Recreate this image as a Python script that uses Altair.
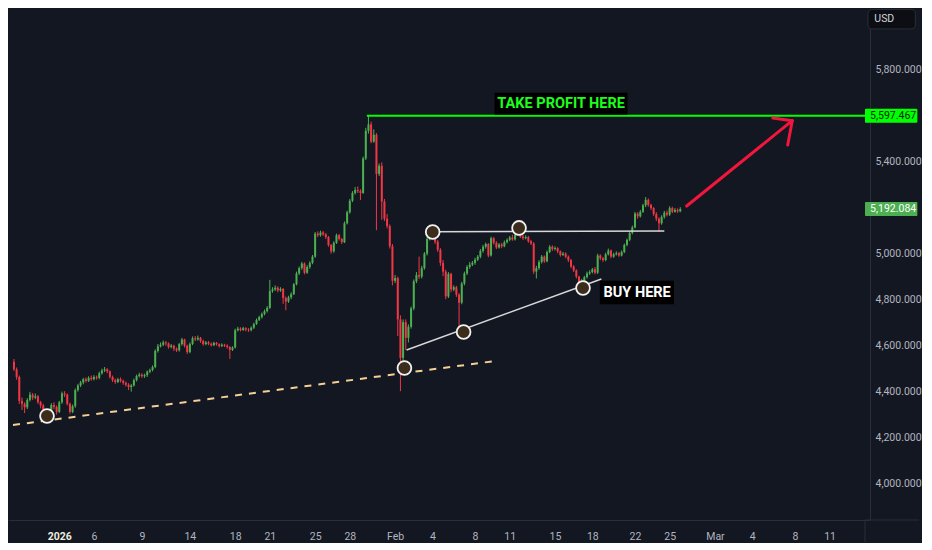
import altair as alt
import pandas as pd

# ---------------- candle data (4H bars, index 0..250) ----------------
open_first = 4528
closes = [
    4495, 4462, 4358, 4345, 4330, 4362, 4385, 4372, 4378, 4352,
    4338, 4312, 4290, 4305, 4340, 4332, 4310, 4352, 4390, 4385,
    4345, 4310, 4335, 4405, 4425, 4438, 4452, 4445, 4458, 4452,
    4462, 4458, 4478, 4490, 4495, 4486, 4462, 4448, 4440, 4452,
    4445, 4436, 4428, 4418, 4425, 4448, 4466, 4472, 4465, 4470,
    4485, 4492, 4505, 4575, 4595, 4602, 4612, 4608, 4592, 4598,
    4585, 4578, 4605, 4625, 4598, 4570, 4605, 4630, 4625, 4632,
    4618, 4605, 4612, 4606, 4600, 4610, 4604, 4596, 4602, 4598,
    4592, 4580, 4590, 4665, 4672, 4666, 4674, 4668, 4665, 4676,
    4692, 4710, 4722, 4736, 4748, 4762, 4835, 4842, 4850, 4838,
    4845, 4805, 4790, 4808, 4822, 4865, 4912, 4935, 4955, 4915,
    4940, 4958, 4985, 5085, 5078, 5090, 5082, 5070, 5035, 5008,
    5045, 5078, 5062, 5048, 5130, 5178, 5228, 5262, 5275, 5270,
    5262, 5412, 5532, 5560, 5485, 5515, 5345, 5380, 5225, 5150,
    5118, 5030, 4880, 4892, 4712, 4545, 4700, 4632, 4680, 4760,
    4878, 4905, 4898, 4935, 4998, 5062, 5085, 5072, 5050, 5015,
    4958, 4920, 4812, 4910, 4842, 4852, 4820, 4785, 4868, 4912,
    4940, 4950, 4958, 4972, 4985, 5010, 5028, 5040, 4990, 5065,
    5045, 5025, 5038, 5030, 5048, 5058, 5068, 5060, 5080, 5095,
    5072, 5065, 5070, 5052, 5042, 4920, 4935, 4962, 4985, 4965,
    5005, 5028, 5018, 5022, 5008, 4992, 4998, 4985, 4970, 4942,
    4925, 4898, 4868, 4880, 4896, 4912, 4918, 4930, 4915, 4990,
    4978, 4970, 4995, 5012, 4985, 4995, 5000, 4990, 5005, 5036,
    5058, 5088, 5112, 5172, 5160, 5180, 5208, 5232, 5210, 5196,
    5170, 5150, 5130, 5158, 5176, 5168, 5196, 5180, 5188, 5182,
    5192.084,
]
highs = [
    4540, 4503, 4468, 4372, 4352, 4370, 4397, 4392, 4390, 4383,
    4358, 4345, 4318, 4315, 4348, 4352, 4338, 4358, 4398, 4400,
    4390, 4350, 4342, 4412, 4432, 4445, 4458, 4460, 4465, 4468,
    4470, 4468, 4485, 4498, 4505, 4500, 4490, 4468, 4455, 4458,
    4460, 4450, 4442, 4435, 4432, 4455, 4472, 4480, 4478, 4476,
    4490, 4498, 4512, 4582, 4605, 4612, 4620, 4618, 4612, 4605,
    4602, 4590, 4610, 4632, 4628, 4602, 4612, 4638, 4640, 4642,
    4636, 4624, 4618, 4618, 4612, 4615, 4614, 4608, 4608, 4606,
    4604, 4596, 4595, 4672, 4680, 4678, 4680, 4678, 4674, 4682,
    4698, 4716, 4728, 4742, 4755, 4770, 4884, 4852, 4860, 4856,
    4852, 4848, 4812, 4815, 4830, 4870, 4920, 4942, 4962, 4960,
    4948, 4965, 4992, 5092, 5095, 5098, 5096, 5088, 5075, 5040,
    5052, 5085, 5084, 5066, 5138, 5185, 5236, 5270, 5288, 5290,
    5278, 5420, 5545, 5597.467, 5572, 5538, 5522, 5390, 5395, 5236,
    5170, 5125, 5040, 4905, 4898, 4730, 4712, 4712, 4690, 4768,
    4886, 4918, 4985, 4945, 5005, 5070, 5092, 5095, 5080, 5058,
    5022, 4970, 4928, 4918, 4915, 4860, 4858, 4826, 4875, 4920,
    4948, 4962, 4966, 4980, 4992, 5018, 5036, 5046, 5044, 5072,
    5070, 5052, 5044, 5045, 5055, 5064, 5075, 5080, 5088, 5110,
    5102, 5080, 5078, 5075, 5058, 5048, 4945, 4970, 4992, 4990,
    5012, 5035, 5034, 5030, 5026, 5012, 5005, 5004, 4990, 4975,
    4948, 4930, 4902, 4888, 4902, 4920, 4926, 4936, 4940, 4998,
    4995, 4984, 5002, 5020, 5016, 5002, 5008, 5006, 5012, 5042,
    5064, 5095, 5120, 5180, 5178, 5188, 5215, 5244, 5238, 5215,
    5200, 5178, 5156, 5165, 5184, 5185, 5204, 5202, 5196, 5195,
    5200,
]
lows = [
    4488, 4450, 4345, 4318, 4305, 4322, 4355, 4362, 4365, 4345,
    4325, 4300, 4275, 4282, 4298, 4322, 4298, 4305, 4345, 4375,
    4338, 4302, 4305, 4328, 4398, 4418, 4430, 4438, 4440, 4446,
    4447, 4450, 4452, 4472, 4483, 4478, 4455, 4440, 4432, 4435,
    4438, 4428, 4420, 4405, 4398, 4420, 4442, 4460, 4458, 4458,
    4462, 4478, 4486, 4500, 4568, 4590, 4596, 4598, 4585, 4586,
    4575, 4570, 4572, 4598, 4590, 4562, 4565, 4600, 4618, 4620,
    4610, 4598, 4600, 4600, 4594, 4596, 4598, 4590, 4592, 4592,
    4585, 4540, 4575, 4586, 4660, 4660, 4662, 4660, 4658, 4660,
    4670, 4688, 4705, 4716, 4730, 4742, 4758, 4828, 4836, 4830,
    4832, 4780, 4752, 4784, 4800, 4818, 4860, 4905, 4928, 4908,
    4910, 4932, 4952, 4980, 5070, 5072, 5075, 5062, 5028, 4998,
    5002, 5040, 5055, 5040, 5044, 5125, 5172, 5222, 5255, 5262,
    5231, 5258, 5405, 5520, 5478, 5480, 5100, 5335, 5145, 5140,
    5108, 5020, 4860, 4870, 4640, 4400, 4530, 4579, 4612, 4672,
    4752, 4870, 4888, 4890, 4928, 4990, 5055, 5062, 5040, 5005,
    4945, 4900, 4800, 4805, 4830, 4835, 4810, 4680, 4778, 4860,
    4905, 4932, 4944, 4950, 4966, 4978, 5002, 5020, 4982, 4985,
    5038, 5018, 5020, 5022, 5026, 5042, 5052, 5054, 5055, 5075,
    5066, 5058, 5060, 5045, 5035, 4910, 4890, 4928, 4955, 4958,
    4960, 5000, 5010, 5012, 5000, 4985, 4988, 4978, 4962, 4935,
    4918, 4890, 4840, 4850, 4870, 4890, 4905, 4912, 4908, 4910,
    4970, 4962, 4965, 4990, 4978, 4980, 4990, 4984, 4986, 5000,
    5030, 5052, 5082, 5108, 5150, 5155, 5175, 5200, 5202, 5188,
    5162, 5140, 5092, 5124, 5150, 5160, 5162, 5174, 5176, 5175,
    5178,
]

# ---------------- axes ----------------
date_ticks = [17, 30, 48, 66, 83, 96, 113, 126, 143, 157, 173, 186, 203, 217, 233, 246, 263, 277, 293, 306]
date_labels = ["2026", "6", "9", "14", "18", "21", "25", "28", "Feb", "4", "8", "11",
               "15", "18", "22", "25", "Mar", "4", "8", "11"]
# 5,200 and 5,600 are hidden behind the price tags in the reference
price_ticks = [4000, 4200, 4400, 4600, 4800, 5000, 5400, 5800]
x_domain = [-0.36, 319.3]
y_domain = [3840, 6066]

# ---------------- annotations ----------------
dash_x1, dash_p1, dash_x2, dash_p2 = [-0.36], [4253], [180.4], [4531]
white_x1 = [147.3, 157.1]
white_p1 = [4579, 5093]
white_x2 = [220.4, 244.0]
white_p2 = [4888, 5097]
tp_price = 5597.467
tp_x1, tp_x2 = [132.4], [319.3]
arrow_x1 = [252.4, 284.7, 290.3]
arrow_p1 = [5205, 5588, 5470]
arrow_x2 = [292.0, 292.0, 292.0]
arrow_p2 = [5576, 5576, 5576]
circle_x = [12.4, 146.5, 157.1, 168.7, 189.5, 213.5]
circle_p = [4292, 4501, 5092, 4657, 5110, 4849]

note_text = ["TAKE PROFIT HERE", "BUY HERE"]
note_x = [205.3, 233.8]
note_p = [5648, 4828]
note_color = ["#1cff1c", "#ffffff"]
note_bx1 = [180.3, 219.8]
note_bx2 = [230.2, 247.6]
note_bp1 = [5602, 4778]
note_bp2 = [5698, 4880]

last_price = 5192.084
tag_text = ["5,597.467", "5,192.084"]
tag_p = [tp_price, last_price]
tag_fill = ["#00ff00", "#4caf50"]
tag_textcolor = ["#0b1f0b", "#ffffff"]
tag_x1, tag_x2, tag_tx = 319.3, 338.95, 321.2
tag_half = 30

usd_x1, usd_x2, usd_p1, usd_p2 = [320.4], [338.2], [5975], [6060]
usd_tx, usd_tp = [322.8], [6018]

GREEN = "#4caf50"
RED = "#f23645"
BG = "#131722"
GRID = "#2a2e39"
AXIS_TXT = "#b2b5be"
NOTE_FONT = "Noto Sans Condensed, Noto Sans SemiCondensed, Roboto, sans-serif"

# ---------------- build ----------------
opens = [open_first] + closes[:-1]
bars = pd.DataFrame({
    "i": list(range(len(closes))),
    "open": opens, "high": highs, "low": lows, "close": closes,
})
bars["dir"] = ["up" if c >= o else "down" for o, c in zip(opens, closes)]

xs = alt.Scale(domain=x_domain, nice=False, zero=False)
ys = alt.Scale(domain=y_domain, nice=False, zero=False)

label_expr = "".join(f"datum.value == {t} ? '{l}' : " for t, l in zip(date_ticks, date_labels)) + "''"
first_test = f"datum.value == {date_ticks[0]}"

x_axis = alt.Axis(
    values=date_ticks, labelExpr=label_expr, title=None, grid=False, ticks=False,
    domainColor=GRID, domainWidth=1,
    labelColor={"condition": {"test": first_test, "value": "#ececdf"}, "value": AXIS_TXT},
    labelFontWeight={"condition": {"test": first_test, "value": "bold"}, "value": "normal"},
    labelPadding=11, labelFontSize=10.5, labelOverlap=False, labelFlush=False,
)
y_axis = alt.Axis(
    orient="right", values=price_ticks, format=",.3f", title=None, grid=False, ticks=False,
    domainColor=GRID, domainWidth=1, labelColor=AXIS_TXT, labelPadding=5,
    labelFontSize=10.5, labelFlush=False, labelOverlap=False,
)


def X(f):
    return alt.X(f"{f}:Q", scale=xs, axis=x_axis)


def Y(f):
    return alt.Y(f"{f}:Q", scale=ys, axis=y_axis)


color = alt.Color("dir:N", scale=alt.Scale(domain=["up", "down"], range=[GREEN, RED]), legend=None)

wicks = alt.Chart(bars).mark_rule(strokeWidth=1).encode(x=X("i"), y=Y("low"), y2="high", color=color)
bodies = alt.Chart(bars).mark_bar(size=2).encode(x=X("i"), y=Y("open"), y2="close", color=color)

dash_df = pd.DataFrame({"x1": dash_x1, "p1": dash_p1, "x2": dash_x2, "p2": dash_p2})
dash = alt.Chart(dash_df).mark_rule(color="#f6cf96", strokeWidth=2, strokeDash=[7, 7]).encode(
    x=X("x1"), y=Y("p1"), x2="x2", y2="p2")

white_df = pd.DataFrame({"x1": white_x1, "p1": white_p1, "x2": white_x2, "p2": white_p2})
white = alt.Chart(white_df).mark_rule(color="#d8d8d8", strokeWidth=1.5).encode(
    x=X("x1"), y=Y("p1"), x2="x2", y2="p2")

tp_df = pd.DataFrame({"x1": tp_x1, "x2": tp_x2, "p": [tp_price]})
tp = alt.Chart(tp_df).mark_rule(color="#00ff00", strokeWidth=2).encode(x=X("x1"), x2="x2", y=Y("p"))

arrow_df = pd.DataFrame({"x1": arrow_x1, "p1": arrow_p1, "x2": arrow_x2, "p2": arrow_p2})
arrow = alt.Chart(arrow_df).mark_rule(color="#f2163c", strokeWidth=3, strokeCap="round").encode(
    x=X("x1"), y=Y("p1"), x2="x2", y2="p2")

circ_df = pd.DataFrame({"x": circle_x, "p": circle_p})
circles = alt.Chart(circ_df).mark_point(
    shape="circle", filled=True, size=190, fill="#3b2c1c", stroke="#f2f2f2", strokeWidth=1.8, opacity=1
).encode(x=X("x"), y=Y("p"))

note_df = pd.DataFrame({"t": note_text, "x": note_x, "p": note_p, "c": note_color,
                        "bx1": note_bx1, "bx2": note_bx2, "bp1": note_bp1, "bp2": note_bp2})
note_box = alt.Chart(note_df).mark_rect(color="#000000").encode(
    x=X("bx1"), x2="bx2", y=Y("bp1"), y2="bp2")
note_txt = alt.Chart(note_df).mark_text(
    font=NOTE_FONT, fontWeight="bold", fontSize=14.5, baseline="middle", align="center"
).encode(x=X("x"), y=Y("p"), text="t:N", color=alt.Color("c:N", scale=None))

tag_df = pd.DataFrame({"t": tag_text, "p": tag_p, "f": tag_fill, "tc": tag_textcolor,
                       "x1": [tag_x1] * 2, "x2": [tag_x2] * 2, "tx": [tag_tx] * 2,
                       "lo": [v - tag_half for v in tag_p], "hi": [v + tag_half for v in tag_p]})
tag_box = alt.Chart(tag_df).mark_rect(cornerRadius=1).encode(
    x=X("x1"), x2="x2", y=Y("lo"), y2="hi", color=alt.Color("f:N", scale=None))
tag_txt = alt.Chart(tag_df).mark_text(font="Roboto", fontSize=10.5, align="left", baseline="middle").encode(
    x=X("tx"), y=Y("p"), text="t:N", color=alt.Color("tc:N", scale=None))

usd_df = pd.DataFrame({"x1": usd_x1, "x2": usd_x2, "p1": usd_p1, "p2": usd_p2,
                       "tx": usd_tx, "tp": usd_tp, "t": ["USD"]})
usd_box = alt.Chart(usd_df).mark_rect(fill="#0c0e14", stroke="#2a2e39", strokeWidth=1, cornerRadius=4).encode(
    x=X("x1"), x2="x2", y=Y("p1"), y2="p2")
usd_txt = alt.Chart(usd_df).mark_text(font="Roboto", fontSize=10.5, align="left", baseline="middle",
                                      color="#d1d4dc").encode(x=X("tx"), y=Y("tp"), text="t:N")

frame_df = pd.DataFrame({"x1": [319.3, 319.3], "x2": [339.6, 319.3], "p1": [3840, 3840], "p2": [3840, 3744]})
frame = alt.Chart(frame_df).mark_rule(color=GRID, strokeWidth=1).encode(
    x=X("x1"), x2="x2", y=Y("p1"), y2="p2")

chart = alt.layer(
    frame, dash, wicks, bodies, white, tp, arrow, circles,
    note_box, note_txt, tag_box, tag_txt, usd_box, usd_txt,
).properties(
    width=862, height=512, background=BG, padding=0,
).configure_view(stroke=None).configure_axis(labelFont="Roboto")

chart.save("out.html", embed_options={"renderer": "svg", "actions": False})
